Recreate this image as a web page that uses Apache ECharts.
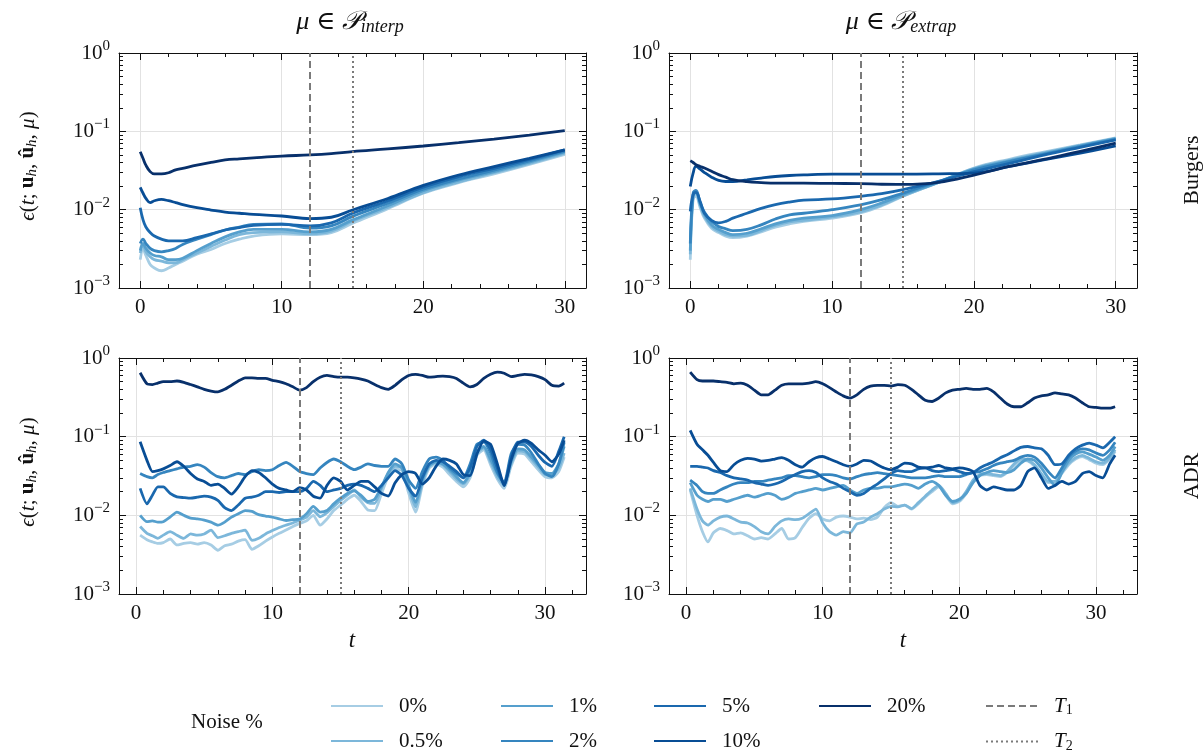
<!DOCTYPE html>
<html><head><meta charset="utf-8">
<script src="https://cdn.jsdelivr.net/npm/echarts@6/dist/echarts.min.js"></script>
<style>html,body{margin:0;padding:0;background:#fff}#c{width:1203px;height:756px}</style>
</head><body><div id="c"></div>
<script>
const FONT = '"Liberation Serif","DejaVu Serif",serif';
const noiseNames = ['0%', '0.5%', '1%', '2%', '5%', '10%', '20%'];
const noiseColors = ['#a6cde4', '#7cb7da', '#559fcd', '#3585bf', '#1a68ae', '#084d95', '#08306b'];
const xMajorTicks = [0, 10, 20, 30];
const xMinorTicks = [2, 4, 6, 8, 12, 14, 16, 18, 22, 24, 26, 28, 32];
const yMajorTicks = [0.001, 0.01, 0.1, 1];
const yMinorTicks = [0.002, 0.003, 0.004, 0.005, 0.006, 0.007, 0.008, 0.009,
  0.02, 0.03, 0.04, 0.05, 0.06, 0.07, 0.08, 0.09, 0.2, 0.3, 0.4, 0.5, 0.6, 0.7, 0.8, 0.9];
const T1 = 12, T2 = 15;

// Burgers time samples
const tBurgers = [0, 0.2, 0.4, 0.7, 1, 1.5, 2, 2.5, 3, 4, 5, 6, 7, 8, 10, 12, 13.5, 15, 17.5, 20, 22.5, 25, 27.5, 30];
// Burgers, interpolation
const bInt0  = [0.0023,0.0031,0.0026,0.0020,0.0018,0.00166,0.0018,0.0020,0.0022,0.0027,0.0031,0.0037,0.0042,0.0046,0.0049,0.0048,0.0051,0.0067,0.0103,0.0162,0.0221,0.0286,0.0378,0.0508];
const bInt05 = [0.0028,0.0035,0.0029,0.0025,0.0023,0.0022,0.0021,0.0021,0.0023,0.0028,0.0034,0.0041,0.0048,0.0051,0.0052,0.0049,0.0053,0.0071,0.0107,0.0165,0.0227,0.0296,0.0389,0.0526];
const bInt1  = [0.0030,0.0037,0.0032,0.0028,0.0026,0.0025,0.0023,0.0023,0.0024,0.0030,0.0037,0.0045,0.0052,0.0056,0.0056,0.0052,0.0056,0.0074,0.0112,0.0175,0.0238,0.0306,0.0405,0.0546];
const bInt2  = [0.0037,0.0042,0.0037,0.0032,0.0030,0.0029,0.0030,0.0032,0.0036,0.0042,0.0048,0.0055,0.0060,0.0065,0.0066,0.0058,0.0062,0.0082,0.0121,0.0182,0.0247,0.0320,0.0420,0.0560];
const bInt5  = [0.0106,0.0074,0.0060,0.0051,0.0046,0.0042,0.0040,0.0040,0.0040,0.0044,0.0049,0.0055,0.0059,0.0063,0.0065,0.0062,0.0068,0.0090,0.0130,0.0193,0.0264,0.0337,0.0438,0.0580];
const bInt10 = [0.0193,0.0162,0.0139,0.0123,0.0130,0.0135,0.0130,0.0123,0.0116,0.0106,0.0099,0.0093,0.0090,0.0087,0.0083,0.0077,0.0080,0.0099,0.0139,0.0204,0.0277,0.0355,0.0452,0.0580];
const bInt20 = [0.055,0.045,0.037,0.0306,0.0286,0.0286,0.0296,0.0322,0.0337,0.037,0.0401,0.0432,0.0446,0.0459,0.0483,0.050,0.052,0.0552,0.0596,0.065,0.0716,0.0797,0.0897,0.102];
// Burgers, extrapolation
const bExt0  = [0.0023,0.0137,0.0148,0.0106,0.0078,0.0058,0.0051,0.0046,0.0044,0.0046,0.0052,0.0060,0.0066,0.0071,0.0078,0.0091,0.0112,0.0148,0.0223,0.0340,0.0440,0.0547,0.0670,0.0825];
const bExt05 = [0.0027,0.0148,0.0160,0.0113,0.0082,0.0061,0.0053,0.0048,0.0046,0.0047,0.0054,0.0063,0.0070,0.0073,0.0081,0.0094,0.0115,0.0150,0.0223,0.0335,0.0430,0.0535,0.0660,0.0816];
const bExt1  = [0.0030,0.0155,0.0166,0.0120,0.0087,0.0064,0.0056,0.0051,0.0048,0.0050,0.0057,0.0066,0.0073,0.0078,0.0084,0.0100,0.0122,0.0155,0.0223,0.0329,0.0419,0.0525,0.0652,0.0810];
const bExt2  = [0.0037,0.0163,0.0176,0.0122,0.0093,0.0071,0.0061,0.0057,0.0054,0.0056,0.0064,0.0076,0.0086,0.0090,0.0100,0.0115,0.0134,0.0163,0.0229,0.0322,0.0410,0.0513,0.0640,0.0792];
const bExt5  = [0.0095,0.0155,0.0166,0.0127,0.0090,0.0073,0.0068,0.0071,0.0078,0.0090,0.0104,0.0116,0.0125,0.0132,0.0137,0.0148,0.0160,0.0180,0.0229,0.0306,0.0390,0.0500,0.0625,0.0776];
const bExt10 = [0.0198,0.0292,0.0356,0.0329,0.0298,0.0260,0.0236,0.0229,0.0229,0.0240,0.0253,0.0265,0.0273,0.0278,0.0284,0.0284,0.0284,0.0284,0.0287,0.0293,0.0356,0.0434,0.0528,0.0652];
const bExt20 = [0.042,0.040,0.0374,0.0356,0.034,0.031,0.028,0.026,0.0241,0.0228,0.0222,0.0218,0.0218,0.0218,0.0216,0.0215,0.0211,0.0210,0.0223,0.0276,0.0356,0.0442,0.0553,0.0705];

// ADR time samples
const tADR = [0.3,0.8,1.2,1.6,2,2.5,3,3.5,4,4.5,5,5.5,6,6.5,7,7.5,8,8.5,9,9.5,10,10.5,11,11.5,12,12.5,13,13.5,14,14.5,15,15.5,16,16.5,17,17.5,18,18.5,19,19.5,20,20.5,21,21.5,22,22.5,23,23.5,24,24.5,25,25.5,26,26.5,27,27.5,28,28.5,29,29.5,30,30.5,31,31.4];
// ADR, interpolation
const aInt0  = [0.0056,0.0049,0.0046,0.0044,0.0045,0.0050,0.0042,0.0044,0.0045,0.0043,0.0045,0.0042,0.0036,0.0041,0.0043,0.0047,0.0049,0.0037,0.0041,0.0047,0.0053,0.0059,0.0065,0.0072,0.0079,0.0085,0.010,0.0075,0.0090,0.0115,0.0135,0.016,0.018,0.015,0.0117,0.0115,0.019,0.031,0.039,0.037,0.019,0.011,0.024,0.040,0.045,0.041,0.033,0.027,0.023,0.030,0.058,0.068,0.044,0.029,0.022,0.042,0.062,0.060,0.048,0.038,0.031,0.030,0.036,0.055];
const aInt05 = [0.0072,0.0059,0.0055,0.0051,0.0056,0.0062,0.0056,0.0051,0.0058,0.0056,0.0058,0.0065,0.0052,0.0055,0.0059,0.0062,0.0065,0.0048,0.0051,0.0058,0.0064,0.0070,0.0075,0.0080,0.0087,0.0095,0.0115,0.0096,0.0108,0.013,0.0155,0.018,0.021,0.017,0.0145,0.0142,0.022,0.034,0.042,0.040,0.022,0.0128,0.026,0.042,0.047,0.044,0.036,0.029,0.025,0.033,0.062,0.072,0.048,0.031,0.024,0.045,0.066,0.064,0.052,0.041,0.033,0.033,0.040,0.062];
const aInt1  = [0.010,0.0083,0.0085,0.0082,0.0083,0.0095,0.011,0.0100,0.0092,0.0090,0.0087,0.0082,0.0075,0.0082,0.0095,0.0105,0.0115,0.0112,0.0102,0.0098,0.0095,0.0090,0.0086,0.0088,0.0090,0.0105,0.013,0.011,0.0115,0.014,0.0165,0.019,0.0205,0.018,0.015,0.016,0.023,0.035,0.045,0.040,0.024,0.0145,0.028,0.043,0.048,0.045,0.038,0.031,0.026,0.035,0.065,0.075,0.052,0.034,0.026,0.048,0.070,0.068,0.055,0.044,0.035,0.034,0.045,0.075];
const aInt2  = [0.034,0.031,0.030,0.033,0.035,0.037,0.039,0.041,0.042,0.044,0.041,0.035,0.031,0.030,0.032,0.034,0.033,0.036,0.038,0.037,0.038,0.043,0.047,0.042,0.036,0.034,0.033,0.040,0.047,0.052,0.048,0.042,0.038,0.041,0.045,0.043,0.042,0.042,0.052,0.045,0.028,0.022,0.036,0.052,0.055,0.050,0.040,0.034,0.030,0.045,0.080,0.085,0.062,0.035,0.026,0.060,0.080,0.078,0.062,0.045,0.034,0.031,0.045,0.085];
const aInt5  = [0.022,0.014,0.018,0.023,0.023,0.019,0.0172,0.0168,0.0165,0.017,0.0175,0.017,0.0155,0.0125,0.0115,0.0135,0.0165,0.017,0.018,0.020,0.020,0.0195,0.020,0.020,0.020,0.022,0.027,0.024,0.020,0.021,0.022,0.024,0.025,0.024,0.022,0.020,0.024,0.030,0.037,0.032,0.022,0.0175,0.030,0.045,0.050,0.048,0.042,0.036,0.030,0.040,0.075,0.090,0.070,0.040,0.024,0.055,0.085,0.085,0.075,0.058,0.047,0.042,0.065,0.100];
const aInt10 = [0.086,0.050,0.036,0.037,0.039,0.043,0.048,0.042,0.034,0.029,0.027,0.024,0.025,0.022,0.0186,0.023,0.031,0.037,0.035,0.030,0.025,0.022,0.021,0.020,0.0225,0.021,0.0175,0.0165,0.024,0.030,0.027,0.021,0.024,0.027,0.027,0.023,0.019,0.0176,0.026,0.033,0.036,0.034,0.025,0.030,0.042,0.052,0.050,0.045,0.033,0.032,0.060,0.088,0.080,0.045,0.024,0.050,0.082,0.090,0.082,0.068,0.058,0.048,0.060,0.090];
const aInt20 = [0.65,0.47,0.46,0.48,0.50,0.50,0.51,0.49,0.46,0.43,0.40,0.38,0.37,0.40,0.45,0.51,0.56,0.56,0.55,0.55,0.52,0.50,0.47,0.43,0.39,0.42,0.50,0.57,0.60,0.58,0.57,0.57,0.56,0.54,0.51,0.46,0.42,0.40,0.45,0.53,0.60,0.62,0.60,0.57,0.58,0.59,0.58,0.55,0.48,0.43,0.46,0.55,0.62,0.66,0.64,0.58,0.60,0.62,0.61,0.58,0.53,0.45,0.44,0.48];
// ADR, extrapolation
const aExt0  = [0.021,0.010,0.0062,0.0046,0.0060,0.0068,0.0064,0.0058,0.0060,0.0055,0.0050,0.0052,0.0050,0.0058,0.0068,0.0050,0.0052,0.0070,0.0092,0.0105,0.0090,0.0085,0.0095,0.0098,0.0095,0.0090,0.0092,0.0088,0.0095,0.0125,0.0145,0.0130,0.0135,0.0120,0.0140,0.0170,0.020,0.023,0.018,0.0140,0.0150,0.019,0.027,0.032,0.033,0.032,0.031,0.035,0.043,0.050,0.049,0.042,0.032,0.026,0.026,0.034,0.044,0.052,0.056,0.051,0.046,0.044,0.052,0.065];
const aExt05 = [0.022,0.012,0.0085,0.0075,0.0085,0.0095,0.0098,0.0090,0.0082,0.0080,0.0072,0.0062,0.0058,0.0072,0.0085,0.0090,0.0088,0.0092,0.0105,0.0120,0.0080,0.0062,0.0056,0.0062,0.0060,0.0078,0.0082,0.0095,0.0105,0.0120,0.0130,0.0128,0.0135,0.0122,0.0145,0.0175,0.021,0.024,0.019,0.0145,0.0155,0.020,0.028,0.033,0.034,0.033,0.032,0.036,0.045,0.052,0.050,0.044,0.034,0.027,0.027,0.036,0.046,0.054,0.058,0.053,0.048,0.046,0.054,0.068];
const aExt1  = [0.026,0.018,0.016,0.015,0.016,0.016,0.015,0.016,0.017,0.018,0.017,0.018,0.019,0.018,0.016,0.017,0.019,0.020,0.021,0.022,0.021,0.022,0.023,0.024,0.021,0.019,0.021,0.022,0.022,0.023,0.023,0.024,0.025,0.024,0.022,0.025,0.027,0.024,0.018,0.015,0.016,0.019,0.026,0.032,0.035,0.037,0.036,0.035,0.038,0.046,0.052,0.050,0.040,0.030,0.024,0.035,0.050,0.060,0.064,0.060,0.055,0.050,0.058,0.075];
const aExt2  = [0.028,0.024,0.020,0.019,0.019,0.021,0.023,0.025,0.026,0.026,0.027,0.027,0.028,0.029,0.030,0.032,0.032,0.031,0.030,0.031,0.033,0.033,0.032,0.030,0.029,0.031,0.033,0.034,0.035,0.034,0.033,0.032,0.031,0.030,0.030,0.030,0.031,0.032,0.031,0.031,0.031,0.033,0.035,0.036,0.039,0.043,0.046,0.048,0.050,0.055,0.058,0.055,0.046,0.036,0.030,0.040,0.055,0.065,0.070,0.068,0.062,0.058,0.068,0.085];
const aExt5  = [0.042,0.042,0.041,0.040,0.037,0.035,0.032,0.030,0.029,0.028,0.026,0.025,0.024,0.025,0.027,0.030,0.033,0.036,0.037,0.035,0.030,0.027,0.025,0.022,0.020,0.018,0.019,0.022,0.025,0.029,0.034,0.037,0.036,0.036,0.039,0.040,0.037,0.036,0.037,0.038,0.036,0.034,0.035,0.040,0.044,0.048,0.054,0.059,0.066,0.073,0.075,0.072,0.070,0.058,0.044,0.045,0.058,0.070,0.078,0.083,0.078,0.072,0.085,0.100];
const aExt10 = [0.12,0.08,0.068,0.058,0.047,0.037,0.036,0.044,0.050,0.053,0.052,0.049,0.050,0.052,0.054,0.050,0.044,0.041,0.048,0.054,0.056,0.052,0.048,0.044,0.042,0.045,0.050,0.049,0.044,0.040,0.038,0.041,0.046,0.045,0.041,0.040,0.041,0.043,0.040,0.039,0.040,0.039,0.036,0.024,0.021,0.023,0.022,0.021,0.021,0.024,0.036,0.040,0.030,0.022,0.024,0.027,0.025,0.027,0.034,0.036,0.032,0.030,0.045,0.058];
const aExt20 = [0.66,0.53,0.51,0.51,0.51,0.50,0.49,0.47,0.48,0.45,0.39,0.34,0.34,0.39,0.45,0.47,0.47,0.47,0.48,0.50,0.47,0.42,0.37,0.33,0.31,0.34,0.40,0.44,0.45,0.45,0.44,0.46,0.45,0.40,0.34,0.29,0.28,0.31,0.36,0.39,0.40,0.41,0.40,0.40,0.41,0.37,0.31,0.26,0.24,0.24,0.27,0.31,0.33,0.34,0.36,0.35,0.34,0.31,0.27,0.24,0.235,0.23,0.23,0.24];

const panels = [
  { t: tBurgers, vals: [bInt0, bInt05, bInt1, bInt2, bInt5, bInt10, bInt20], xMin: -1.5, xMax: 31.5, smooth: 0.4,
    grid: { left: 119, top: 53, width: 467, height: 235 } },
  { t: tBurgers, vals: [bExt0, bExt05, bExt1, bExt2, bExt5, bExt10, bExt20], xMin: -1.5, xMax: 31.5, smooth: 0.4,
    grid: { left: 669, top: 53, width: 468, height: 235 } },
  { t: tADR, vals: [aInt0, aInt05, aInt1, aInt2, aInt5, aInt10, aInt20], xMin: -1.25, xMax: 33.0, smooth: 0.2,
    grid: { left: 119, top: 358, width: 467, height: 236 } },
  { t: tADR, vals: [aExt0, aExt05, aExt1, aExt2, aExt5, aExt10, aExt20], xMin: -1.25, xMax: 33.0, smooth: 0.2,
    grid: { left: 669, top: 358, width: 468, height: 236 } }
];

const INK = '#111';
const grid = [], xAxis = [], yAxis = [], series = [];

function hiddenBase(extra) {
  return Object.assign({
    axisLine: { show: false, onZero: false },
    axisLabel: { show: false },
    axisTick: { show: false },
    splitLine: { show: false },
    minorTick: { show: false },
    minorSplitLine: { show: false }
  }, extra);
}
function supLabel(v) {
  const e = Math.round(Math.log10(v));
  return '{b|10}{s|' + (e < 0 ? '\u2212' + (-e) : String(e)) + '}';
}

panels.forEach((p, g) => {
  grid.push(p.grid);
  const xr = { type: 'value', gridIndex: g, min: p.xMin, max: p.xMax };
  xAxis.push(hiddenBase(Object.assign({}, xr, {
    position: 'bottom',
    axisLine: { show: true, onZero: false, lineStyle: { color: INK, width: 1 } },
    axisTick: { show: true, inside: true, length: 7, customValues: xMajorTicks, lineStyle: { color: INK, width: 1 } },
    axisLabel: { show: true, customValues: xMajorTicks, margin: 9, color: INK, fontFamily: FONT, fontSize: 21 },
    splitLine: { show: true, lineStyle: { color: '#e2e2e2', width: 1 } }
  })));
  xAxis.push(hiddenBase(Object.assign({}, xr, {
    position: 'bottom',
    axisTick: { show: true, inside: true, length: 4, customValues: xMinorTicks, lineStyle: { color: INK, width: 1 } }
  })));
  xAxis.push(hiddenBase(Object.assign({}, xr, {
    position: 'top',
    axisLine: { show: true, onZero: false, lineStyle: { color: INK, width: 1 } },
    axisTick: { show: true, inside: true, length: 7, customValues: xMajorTicks, lineStyle: { color: INK, width: 1 } }
  })));
  xAxis.push(hiddenBase(Object.assign({}, xr, {
    position: 'top',
    axisTick: { show: true, inside: true, length: 4, customValues: xMinorTicks, lineStyle: { color: INK, width: 1 } }
  })));

  const yr = { type: 'log', logBase: 10, gridIndex: g, min: 0.001, max: 1 };
  yAxis.push(hiddenBase(Object.assign({}, yr, {
    position: 'left',
    axisLine: { show: true, onZero: false, lineStyle: { color: INK, width: 1 } },
    axisTick: { show: true, inside: true, length: 7, customValues: yMajorTicks, lineStyle: { color: INK, width: 1 } },
    axisLabel: { show: true, customValues: yMajorTicks, margin: 9, formatter: supLabel,
      rich: { b: { fontFamily: FONT, fontSize: 21, color: INK },
              s: { fontFamily: FONT, fontSize: 15, color: INK, padding: [0, 0, 14, 0] } } },
    splitLine: { show: true, lineStyle: { color: '#e2e2e2', width: 1 } }
  })));
  yAxis.push(hiddenBase(Object.assign({}, yr, {
    position: 'left',
    axisTick: { show: true, inside: true, length: 4, customValues: yMinorTicks, lineStyle: { color: INK, width: 1 } }
  })));
  yAxis.push(hiddenBase(Object.assign({}, yr, {
    position: 'right',
    axisLine: { show: true, onZero: false, lineStyle: { color: INK, width: 1 } },
    axisTick: { show: true, inside: true, length: 7, customValues: yMajorTicks, lineStyle: { color: INK, width: 1 } }
  })));
  yAxis.push(hiddenBase(Object.assign({}, yr, {
    position: 'right',
    axisTick: { show: true, inside: true, length: 4, customValues: yMinorTicks, lineStyle: { color: INK, width: 1 } }
  })));

  const xi = 4 * g, yi = 4 * g;
  [['T1', T1, [7, 4]], ['T2', T2, [2, 3]]].forEach(([nm, xv, dash]) => {
    series.push({
      type: 'line', name: nm, xAxisIndex: xi, yAxisIndex: yi, data: [], symbol: 'none', z: 2,
      lineStyle: { color: '#7a7a7a', width: 2, type: dash }, itemStyle: { color: '#7a7a7a', opacity: 0 },
      markLine: { symbol: ['none', 'none'], silent: true, animation: false, label: { show: false },
        lineStyle: { color: '#7a7a7a', width: 2, type: dash, opacity: 1 }, emphasis: { disabled: true },
        data: [{ xAxis: xv }] }
    });
  });
  p.vals.forEach((vals, k) => {
    series.push({
      type: 'line', name: noiseNames[k], xAxisIndex: xi, yAxisIndex: yi,
      data: p.t.map((t, i) => [t, vals[i]]),
      symbol: 'none', showSymbol: false, smooth: p.smooth, z: 3,
      lineStyle: { color: noiseColors[k], width: 2.8 },
      itemStyle: { color: noiseColors[k] },
      emphasis: { disabled: true }
    });
  });
});

const legendBase = {
  orient: 'vertical', itemWidth: 52, itemHeight: 14, itemGap: 13, top: 695, padding: 0,
  height: 70, selectedMode: false,
  itemStyle: { opacity: 0 },
  textStyle: { fontFamily: FONT, fontSize: 21, lineHeight: 22, color: INK, padding: [0, 0, 0, 11] }
};
const legend = [
  Object.assign({}, legendBase, { left: 330, data: ['0%', '0.5%'] }),
  Object.assign({}, legendBase, { left: 500, data: ['1%', '2%'] }),
  Object.assign({}, legendBase, { left: 653, data: ['5%', '10%'] }),
  Object.assign({}, legendBase, { left: 818, data: ['20%'] }),
  Object.assign({}, legendBase, { left: 985, data: ['T1', 'T2'],
    formatter: n => '{i|T}{s|' + n.slice(1) + '}',
    textStyle: { fontFamily: FONT, fontSize: 21, lineHeight: 22, color: INK, padding: [0, 0, 0, 11],
      rich: { i: { fontFamily: FONT, fontSize: 21, fontStyle: 'italic', color: INK },
              s: { fontFamily: FONT, fontSize: 14, color: INK, padding: [9, 0, 0, 0] } } } })
];

const yLabelRich = {
  r: { fontFamily: FONT, fontSize: 21, fill: INK },
  i: { fontFamily: FONT, fontSize: 21, fontStyle: 'italic', fill: INK },
  b: { fontFamily: FONT, fontSize: 21, fontWeight: 'bold', fill: INK },
  h: { fontFamily: FONT, fontSize: 15, fontStyle: 'italic', fill: INK, padding: [9, 0, 0, 0] }
};
const yLabelText = '{i|\u03f5}{r|(}{i|t}{r|; }{b|u}{h|h}{r|, }{b|\u00fb}{h|h}{r|, }{i|\u03bc}{r|)}';
const titleRich = {
  i: { fontFamily: FONT, fontSize: 26, fontStyle: 'italic', fill: INK },
  r: { fontFamily: FONT, fontSize: 26, fill: INK },
  s: { fontFamily: FONT, fontSize: 18, fontStyle: 'italic', fill: INK, padding: [11, 0, 0, 0] }
};
function titleText(sub) { return '{i|\u03bc}{r| \u2208 }{i|\ud835\udcab}{s|' + sub + '}'; }

const graphic = [
  { type: 'text', x: 350, y: 22, style: { text: titleText('interp'), rich: titleRich, align: 'center', verticalAlign: 'middle' } },
  { type: 'text', x: 901, y: 22, style: { text: titleText('extrap'), rich: titleRich, align: 'center', verticalAlign: 'middle' } },
  { type: 'text', x: 28, y: 166, rotation: Math.PI / 2, style: { text: yLabelText, rich: yLabelRich, align: 'center', verticalAlign: 'middle' } },
  { type: 'text', x: 28, y: 472, rotation: Math.PI / 2, style: { text: yLabelText, rich: yLabelRich, align: 'center', verticalAlign: 'middle' } },
  { type: 'text', x: 1192, y: 170, rotation: Math.PI / 2, style: { text: 'Burgers', fontFamily: FONT, fontSize: 22, fill: INK, align: 'center', verticalAlign: 'middle' } },
  { type: 'text', x: 1192, y: 476, rotation: Math.PI / 2, style: { text: 'ADR', fontFamily: FONT, fontSize: 22, fill: INK, align: 'center', verticalAlign: 'middle' } },
  { type: 'text', x: 352, y: 641, style: { text: 't', fontFamily: FONT, fontSize: 23, fontStyle: 'italic', fill: INK, align: 'center', verticalAlign: 'middle' } },
  { type: 'text', x: 903, y: 641, style: { text: 't', fontFamily: FONT, fontSize: 23, fontStyle: 'italic', fill: INK, align: 'center', verticalAlign: 'middle' } },
  { type: 'text', x: 191, y: 722, style: { text: 'Noise %', fontFamily: FONT, fontSize: 21, fill: INK, align: 'left', verticalAlign: 'middle' } }
];

const chart = echarts.init(document.getElementById('c'), null, { renderer: 'canvas' });
chart.setOption({
  backgroundColor: '#ffffff',
  animation: false,
  grid, xAxis, yAxis, series, legend, graphic
});
</script></body></html>
